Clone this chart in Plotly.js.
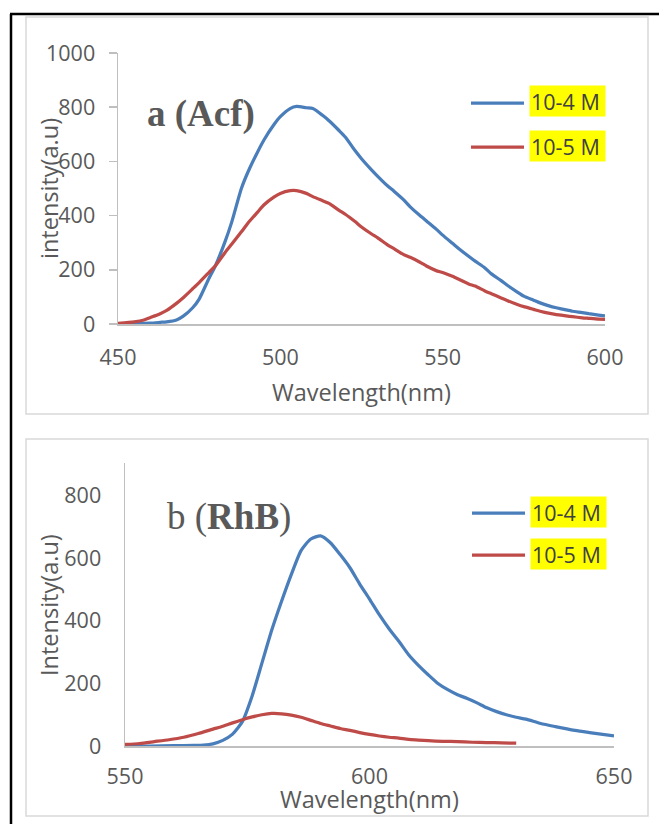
<!DOCTYPE html>
<html>
<head>
<meta charset="utf-8">
<script src="https://cdn.plot.ly/plotly-3.0.1.min.js"></script>
<style>html,body{margin:0;padding:0;background:#fff;}#chart{width:659px;height:824px;}</style>
</head>
<body>
<div id="chart"></div>
<script>
// ---- Panel a (Acf) data ----
const wlA = [450,455,458,460,463,465,468,470,473,475,478,480,483,485,488,490,493,495,498,500,503,505,508,510,513,515,518,520,523,525,528,530,533,535,538,540,543,545,548,550,553,555,558,560,563,565,568,570,573,575,578,580,583,585,588,590,593,595,598,600];
const acf4 = [0,1,2,3,6,8,15,28,60,92,168,215,305,375,500,560,635,680,735,765,795,803,798,795,770,750,715,690,640,610,570,545,510,490,458,432,400,380,350,328,298,278,250,232,207,185,160,142,118,103,88,78,66,60,52,47,42,38,33,30];
const acf5 = [2,8,15,24,38,50,76,96,130,153,190,215,264,294,340,372,413,440,468,482,492,492,482,470,455,445,420,405,378,358,333,318,292,278,256,246,228,214,197,190,176,165,148,140,122,112,96,86,72,64,54,47,39,35,30,27,23,21,18,17];
// ---- Panel b (RhB) data ----
const wlB4 = [550,555,560,564,566,568,570,572,574,576,578,580,582,584,586,588,590,592,594,596,598,600,602,604,606,608,610,612,614,616,618,620,622,624,626,628,630,632,635,638,642,645,650];
const rhb4 = [0,0,1,2,3,7,18,38,78,160,265,370,462,548,625,662,672,650,612,570,518,470,420,375,335,292,258,228,200,180,164,152,138,122,110,100,92,86,72,62,50,43,32];
const wlB5 = [550,553,556,559,562,565,568,570,572,574,576,578,580,582,584,586,588,590,592,594,596,598,600,602,604,606,608,610,612,615,618,621,624,627,630];
const rhb5 = [5,8,14,20,28,40,54,63,74,84,93,100,104,103,99,92,82,72,64,56,50,43,37,32,28,25,21,19,17,15,14,12,11,10,9];
// ---- Labels ----
const seriesNames = ["10-4 M", "10-5 M"];
const yTicksA = [0,200,400,600,800,1000];
const yTicksB = [0,200,400,600,800];
const xTicksA = [450,500,550,600];
const xTicksB = [550,600,650];

const W = 659, H = 824;
const px = x => x / W;
const py = y => 1 - y / H;
const BLUE = '#4a7ebb', RED = '#be4b48', GRAY = '#595959', AXIS = '#bfbfbf';
const FONT = 'Open Sans, sans-serif';
const TICK = 21.5, TITLE = 23.5, LW = 3.25;

const traces = [
  {x: wlA, y: acf4, name: seriesNames[0], type: 'scatter', mode: 'lines', line: {color: BLUE, width: LW, shape: 'spline', smoothing: 0.6}, xaxis: 'x', yaxis: 'y', showlegend: false},
  {x: wlA, y: acf5, name: seriesNames[1], type: 'scatter', mode: 'lines', line: {color: RED, width: LW, shape: 'spline', smoothing: 0.6}, xaxis: 'x', yaxis: 'y', showlegend: false},
  {x: wlB4, y: rhb4, name: seriesNames[0], type: 'scatter', mode: 'lines', line: {color: BLUE, width: LW, shape: 'spline', smoothing: 0.6}, xaxis: 'x2', yaxis: 'y2', showlegend: false},
  {x: wlB5, y: rhb5, name: seriesNames[1], type: 'scatter', mode: 'lines', line: {color: RED, width: LW, shape: 'spline', smoothing: 0.6}, xaxis: 'x2', yaxis: 'y2', showlegend: false}
];

const tickFont = {family: FONT, size: TICK, color: GRAY};

const layout = {
  width: W, height: H,
  margin: {l: 0, r: 0, t: 0, b: 0},
  paper_bgcolor: '#fff', plot_bgcolor: 'rgba(0,0,0,0)',
  showlegend: false,
  xaxis: {
    domain: [px(118), px(605)], range: [450, 600], anchor: 'y',
    tickvals: xTicksA, ticktext: xTicksA.map(String), ticks: '', showgrid: false, zeroline: false,
    showline: true, linecolor: AXIS, linewidth: 1.5, tickfont: tickFont, ticklabelstandoff: 14,
    title: {text: 'Wavelength(nm)', font: {family: FONT, size: TITLE, color: GRAY}, standoff: 14}
  },
  yaxis: {
    domain: [py(324), py(53)], range: [0, 1000], anchor: 'x',
    tickvals: yTicksA, ticktext: yTicksA.map(String), ticks: 'outside', ticklen: 8, tickcolor: AXIS, tickwidth: 1.5,
    showgrid: false, zeroline: false, showline: true, linecolor: AXIS, linewidth: 1.5, tickfont: tickFont, ticklabelstandoff: 9
  },
  xaxis2: {
    domain: [px(125), px(614)], range: [550, 650], anchor: 'y2',
    tickvals: xTicksB, ticktext: xTicksB.map(String), ticks: '', showgrid: false, zeroline: false,
    showline: true, linecolor: AXIS, linewidth: 1.5, tickfont: tickFont, ticklabelstandoff: 11
  },
  yaxis2: {
    domain: [py(746), py(463)], range: [0, 905], anchor: 'x2',
    tickvals: yTicksB, ticktext: yTicksB.map(String), ticks: '',
    showgrid: false, zeroline: false, showline: true, linecolor: AXIS, linewidth: 1.5, tickfont: tickFont, ticklabelstandoff: 18
  },
  shapes: [
    {type: 'rect', xref: 'paper', yref: 'paper', x0: px(26), x1: px(648), y0: py(414), y1: py(17), line: {color: '#d9d9d9', width: 1.5}, layer: 'below'},
    {type: 'rect', xref: 'paper', yref: 'paper', x0: px(26), x1: px(648), y0: py(816), y1: py(439), line: {color: '#d9d9d9', width: 1.5}, layer: 'below'},
    {type: 'line', xref: 'paper', yref: 'paper', x0: px(10), x1: 1, y0: py(14), y1: py(14), line: {color: '#000', width: 2.5}},
    {type: 'line', xref: 'paper', yref: 'paper', x0: px(11), x1: px(11), y0: py(14), y1: 0, line: {color: '#000', width: 2.5}},
    // legend samples
    {type: 'line', xref: 'paper', yref: 'paper', x0: px(471), x1: px(524), y0: py(103), y1: py(103), line: {color: BLUE, width: LW}},
    {type: 'line', xref: 'paper', yref: 'paper', x0: px(471), x1: px(524), y0: py(147), y1: py(147), line: {color: RED, width: LW}},
    {type: 'line', xref: 'paper', yref: 'paper', x0: px(472), x1: px(525), y0: py(513), y1: py(513), line: {color: BLUE, width: LW}},
    {type: 'line', xref: 'paper', yref: 'paper', x0: px(472), x1: px(525), y0: py(555), y1: py(555), line: {color: RED, width: LW}}
  ],
  annotations: [
    {xref: 'paper', yref: 'paper', x: px(145), y: py(114), xanchor: 'left', yanchor: 'middle', showarrow: false,
     text: '<b>a (Acf)</b>', font: {family: 'Liberation Serif, Times New Roman, serif', size: 37, color: GRAY}},
    {xref: 'paper', yref: 'paper', x: px(165), y: py(517), xanchor: 'left', yanchor: 'middle', showarrow: false,
     text: 'b (<b>RhB</b>)', font: {family: 'Liberation Serif, Times New Roman, serif', size: 37, color: GRAY}},
    {xref: 'paper', yref: 'paper', x: px(49), y: py(189), xanchor: 'center', yanchor: 'middle', showarrow: false, textangle: -90,
     text: 'intensity(a.u)', font: {family: FONT, size: TITLE, color: GRAY}},
    {xref: 'paper', yref: 'paper', x: px(49), y: py(605), xanchor: 'center', yanchor: 'middle', showarrow: false, textangle: -90,
     text: 'Intensity(a.u)', font: {family: FONT, size: TITLE, color: GRAY}},
    {xref: 'paper', yref: 'paper', x: px(369.5), y: py(799), xanchor: 'center', yanchor: 'middle', showarrow: false,
     text: 'Wavelength(nm)', font: {family: FONT, size: TITLE, color: GRAY}},
    // legend texts with yellow highlight
    {xref: 'paper', yref: 'paper', x: px(529), y: py(101), xanchor: 'left', yanchor: 'middle', showarrow: false, align: 'left',
     text: seriesNames[0], bgcolor: '#ffff00', width: 73, height: 28, borderpad: 1, font: {family: FONT, size: TICK, color: '#404040'}},
    {xref: 'paper', yref: 'paper', x: px(529), y: py(146), xanchor: 'left', yanchor: 'middle', showarrow: false, align: 'left',
     text: seriesNames[1], bgcolor: '#ffff00', width: 73, height: 28, borderpad: 1, font: {family: FONT, size: TICK, color: '#404040'}},
    {xref: 'paper', yref: 'paper', x: px(530), y: py(512), xanchor: 'left', yanchor: 'middle', showarrow: false, align: 'left',
     text: seriesNames[0], bgcolor: '#ffff00', width: 73, height: 28, borderpad: 1, font: {family: FONT, size: TICK, color: '#404040'}},
    {xref: 'paper', yref: 'paper', x: px(530), y: py(554), xanchor: 'left', yanchor: 'middle', showarrow: false, align: 'left',
     text: seriesNames[1], bgcolor: '#ffff00', width: 73, height: 28, borderpad: 1, font: {family: FONT, size: TICK, color: '#404040'}}
  ]
};

Plotly.newPlot('chart', traces, layout, {staticPlot: true, displayModeBar: false});
</script>
</body>
</html>
